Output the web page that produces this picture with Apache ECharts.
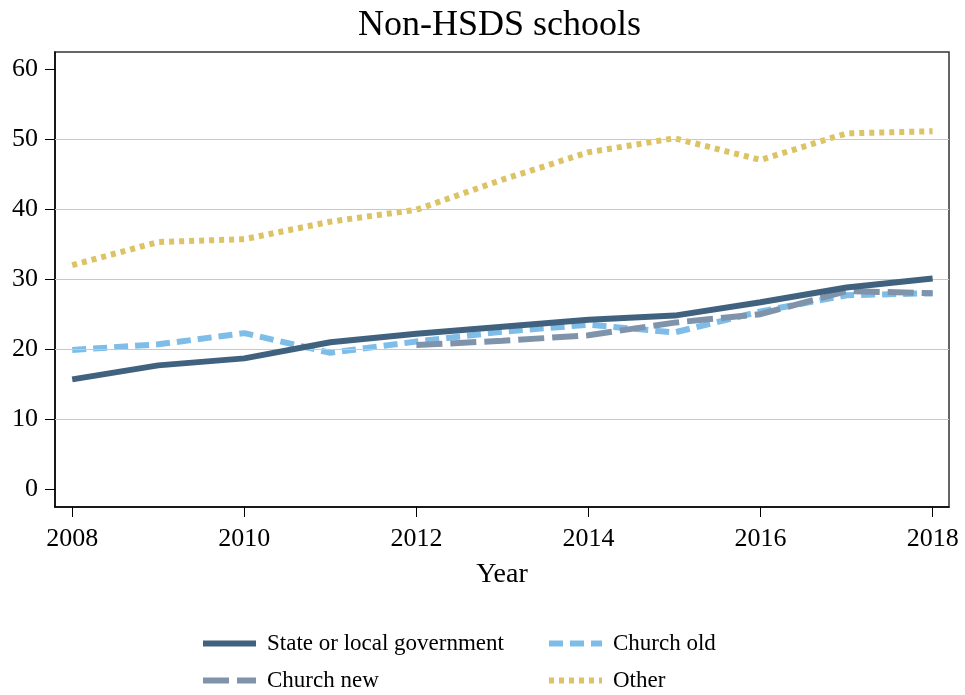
<!DOCTYPE html>
<html>
<head>
<meta charset="utf-8">
<script src="https://cdn.jsdelivr.net/npm/echarts@6/dist/echarts.min.js"></script>
<style>
  html, body { margin: 0; padding: 0; background: #fff; }
  #chart { width: 965px; height: 695px; }
</style>
</head>
<body>
<div id="chart"></div>
<script>
// Share of schools by sponsor type, 2008-2018
const years = [2008, 2009, 2010, 2011, 2012, 2013, 2014, 2015, 2016, 2017, 2018];
const stateLocal = [15.7, 17.7, 18.7, 21.0, 22.2, 23.2, 24.2, 24.8, 26.7, 28.8, 30.1];
const churchOld  = [19.9, 20.7, 22.3, 19.5, 21.1, 22.5, 23.5, 22.4, 25.4, 27.7, 28.0];
const churchNew  = [null, null, null, null, 20.6, 21.2, 22.0, 23.8, 25.0, 28.3, 28.0];
const other      = [32.0, 35.3, 35.7, 38.2, 39.9, 44.2, 48.1, 50.1, 47.0, 50.8, 51.1];
const xTicks = [2008, 2010, 2012, 2014, 2016, 2018];
const yTicks = [0, 10, 20, 30, 40, 50, 60];
const gridValues = [10, 20, 30, 40, 50];

const FONT = '"Liberation Serif", "Times New Roman", serif';

function pairs(vals) {
  return years.map((y, i) => [y, vals[i]]);
}

const chart = echarts.init(document.getElementById('chart'), null, { renderer: 'canvas' });

// One legend block per entry so the two columns line up
function legendAt(name, left, top, dash) {
  return {
    data: [name],
    left: left,
    top: top,
    padding: 0,
    itemWidth: 53,
    itemHeight: 14,
    itemGap: 0,
    selectedMode: false,
    itemStyle: { opacity: 0 },
    lineStyle: { width: 6, type: dash },
    textStyle: { fontFamily: FONT, fontSize: 23, color: '#000', padding: [0, 0, 0, 6] }
  };
}

const option = {
  animation: false,
  backgroundColor: '#fff',
  title: {
    text: 'Non-HSDS schools',
    left: 358,
    top: 8,
    padding: 0,
    textStyle: { fontFamily: FONT, fontSize: 36, fontWeight: 'normal', color: '#000' }
  },
  legend: [
    legendAt('State or local government', 200, 632, 'solid'),
    legendAt('Church old', 546, 632, [14, 7]),
    legendAt('Church new', 200, 669, [26, 8]),
    legendAt('Other', 546, 669, [5, 5])
  ],
  grid: {
    left: 55, right: 16, top: 52, bottom: 188,
    show: true, borderColor: '#333', borderWidth: 1.5, backgroundColor: '#fff'
  },
  xAxis: {
    type: 'value',
    min: 2007.8,
    max: 2018.19,
    name: 'Year',
    nameLocation: 'middle',
    nameGap: 54,
    nameTextStyle: { fontFamily: FONT, fontSize: 28, color: '#000' },
    axisLine: { show: true, onZero: false, lineStyle: { color: '#000', width: 1.5 } },
    axisTick: { show: true, length: 10, customValues: xTicks, lineStyle: { color: '#000', width: 1 } },
    axisLabel: {
      customValues: xTicks,
      formatter: v => String(Math.round(v)),
      fontFamily: FONT, fontSize: 26, color: '#000', margin: 19
    },
    splitLine: { show: false }
  },
  yAxis: {
    type: 'value',
    min: -2.5,
    max: 62.4,
    axisLine: { show: true, onZero: false, lineStyle: { color: '#000', width: 1.5 } },
    axisTick: { show: true, length: 10, customValues: yTicks, lineStyle: { color: '#000', width: 1 } },
    axisLabel: {
      customValues: yTicks,
      fontFamily: FONT, fontSize: 26, color: '#000', margin: 17
    },
    splitLine: { show: false }
  },
  series: [
    {
      name: 'gridlines',
      type: 'line',
      data: [],
      silent: true,
      z: 1,
      markLine: {
        silent: true,
        symbol: 'none',
        label: { show: false },
        lineStyle: { color: '#c8c8c8', width: 1, type: 'solid' },
        data: gridValues.map(v => ({ yAxis: v }))
      }
    },
    {
      name: 'State or local government',
      type: 'line',
      data: pairs(stateLocal),
      symbol: 'none',
      z: 5,
      color: '#40627f',
      lineStyle: { color: '#40627f', width: 6, type: 'solid' }
    },
    {
      name: 'Church old',
      type: 'line',
      data: pairs(churchOld),
      symbol: 'none',
      z: 3,
      color: '#7dbde8',
      lineStyle: { color: '#7dbde8', width: 6, type: [14, 7] }
    },
    {
      name: 'Church new',
      type: 'line',
      data: pairs(churchNew),
      symbol: 'none',
      z: 4,
      color: '#7f93ab',
      lineStyle: { color: '#7f93ab', width: 6, type: [26, 8] }
    },
    {
      name: 'Other',
      type: 'line',
      data: pairs(other),
      symbol: 'none',
      z: 3,
      color: '#dcc466',
      lineStyle: { color: '#dcc466', width: 6, type: [5, 5] }
    }
  ]
};

chart.setOption(option);
</script>
</body>
</html>
